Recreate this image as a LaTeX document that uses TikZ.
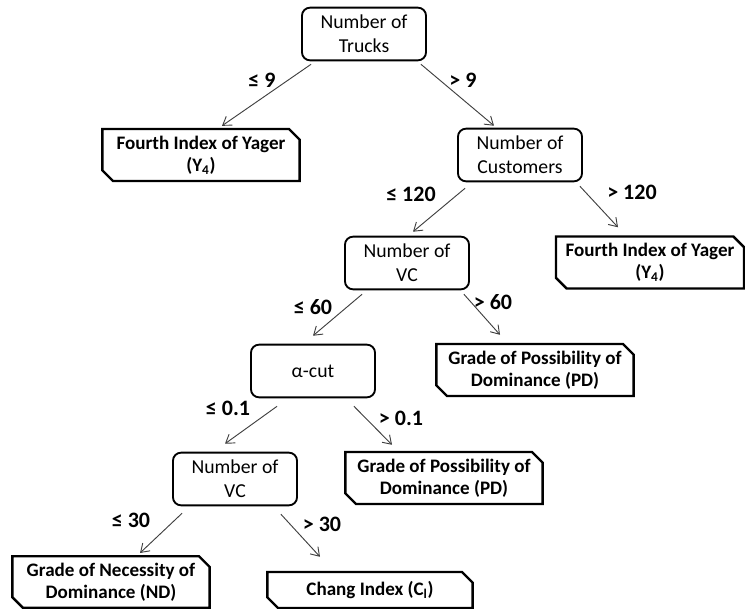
\documentclass[tikz,border=0pt]{standalone}
\usepackage{fontspec}
\setmainfont{Carlito}
\usetikzlibrary{shapes.misc,arrows.meta,calc}
\begin{document}
\begin{tikzpicture}[x=0.75pt,y=-0.75pt,
  dec/.style={draw, line width=1.4pt, rounded corners=6pt, minimum width=93pt, minimum height=39.5pt, align=center, font=\fontsize{14.8}{18}\selectfont, inner sep=1pt},
  leaf/.style={chamfered rectangle, chamfered rectangle corners={north east,south west}, chamfered rectangle xsep=4pt, chamfered rectangle ysep=4pt, draw, line width=1.8pt, minimum width=148pt, minimum height=39pt, align=center, font=\bfseries\fontsize{14.3}{16.5}\selectfont, inner sep=1pt},
  arr/.style={-{Straight Barb[length=6pt,width=8pt]}, line width=0.7pt, draw=black!75},
  lab/.style={font=\bfseries\fontsize{16.5}{18}\selectfont, inner sep=0pt}]
\useasboundingbox (0,0) rectangle (745,609);

\node[dec] (trucks) at (364,34) {Number of\\Trucks};
\node[leaf] (y4l) at (201,155) {Fourth Index of Yager\\(Y\textsubscript{4})};
\node[dec] (cust) at (520,155) {Number of\\Customers};
\node[leaf, minimum width=141pt] (y4r) at (650,262.5) {Fourth Index of Yager\\(Y\textsubscript{4})};
\node[dec] (vc1) at (407,263) {Number of\\VC};
\node[leaf] (pd1) at (535,370) {Grade of Possibility of\\Dominance (PD)};
\node[dec] (acut) at (313,371) {α-cut};
\node[leaf] (pd2) at (444,478) {Grade of Possibility of\\Dominance (PD)};
\node[dec] (vc2) at (235,479) {Number of\\VC};
\node[leaf, minimum height=37.5pt] (nd) at (111,582) {Grade of Necessity of\\Dominance (ND)};
\node[leaf, minimum width=154pt, minimum height=27pt] (chang) at (370,590) {Chang Index (C\textsubscript{l})};

\draw[arr] ($(trucks.south west)+(10,3)$) -- ($(y4l.north)+(21,-2)$);
\draw[arr] ($(trucks.south east)+(-6,3)$) -- ($(cust.north)+(-26,-2)$);
\draw[arr] ($(cust.south west)+(8,6)$) -- ($(vc1.north)+(6,-4)$);
\draw[arr] ($(cust.south east)+(-3,4)$) -- ($(y4r.north)+(-32,-8)$);
\draw[arr] ($(vc1.south west)+(18,4)$) -- ($(acut.north)+(0,-8)$);
\draw[arr] ($(vc1.south east)+(-6,4)$) -- ($(pd1.north)+(-35,-8)$);
\draw[arr] ($(acut.south west)+(27,8)$) -- ($(vc2.north)+(-10,-8)$);
\draw[arr] ($(acut.south east)+(-22,8)$) -- ($(pd2.north)+(-52,-6)$);
\draw[arr] ($(vc2.south west)+(10,7)$) -- ($(nd.north)+(29,-2)$);
\draw[arr] ($(vc2.south east)+(-17,8)$) -- ($(chang.north)+(-50,-14)$);

\node[lab] (l1) at (262,80) {≤ 9};
\node[lab] (l2) at (463,80) {> 9};
\node[lab] (l3) at (411,194) {≤ 120};
\node[lab] (l4) at (632,192) {> 120};
\node[lab] (l5) at (313,307) {≤ 60};
\node[lab] (l6) at (493,302) {> 60};
\node[lab] (l7) at (228,408) {≤ 0.1};
\node[lab] (l8) at (401,418) {> 0.1};
\node[lab] (l9) at (131,520) {≤ 30};
\node[lab] (l10) at (322,524) {> 30};
\end{tikzpicture}
\end{document}
